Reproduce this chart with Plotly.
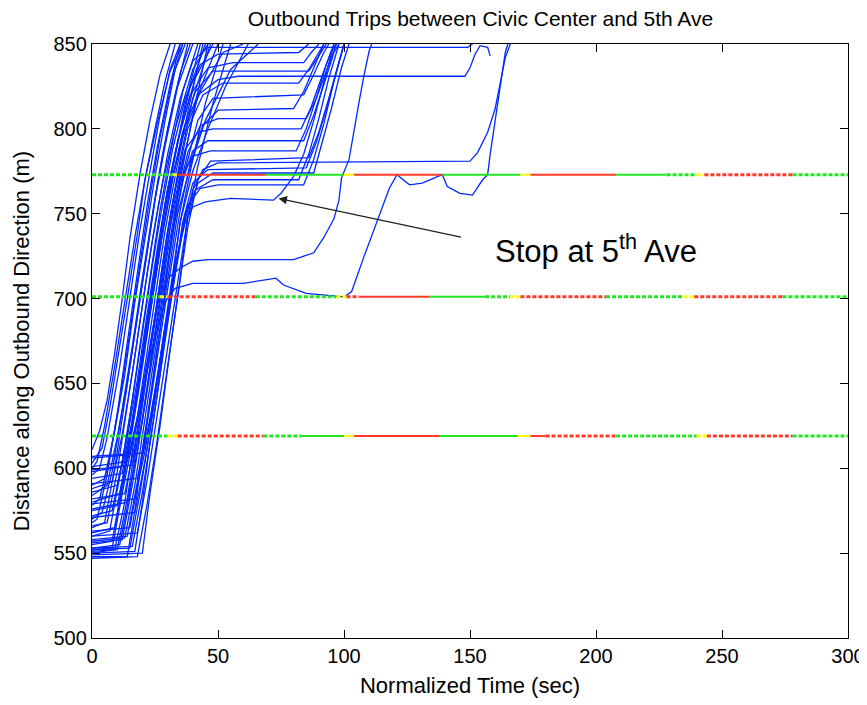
import plotly.graph_objects as go

# ---- signal heads along the outbound corridor (m) ----
signal_pos = [619, 701, 773]

# signal phases: (start s, end s, phase, observed)  observed=1 solid, 0 inferred
phases_619 = [
    (0, 30, 'G', 0), (30, 34, 'Y', 0), (34, 68, 'R', 0), (68, 83, 'G', 0),
    (83, 100, 'G', 1), (100, 104, 'Y', 1), (104, 138, 'R', 1), (138, 169, 'G', 1),
    (169, 174, 'Y', 1), (174, 180, 'R', 1), (180, 208, 'R', 0), (208, 240, 'G', 0),
    (240, 244, 'Y', 0), (244, 278, 'R', 0), (278, 300, 'G', 0),
]
phases_701 = [
    (0, 27, 'G', 0), (27, 30, 'Y', 0), (30, 65, 'R', 0), (65, 97, 'G', 0),
    (97, 101, 'Y', 0), (101, 106, 'R', 0), (106, 134, 'R', 1), (134, 156, 'G', 1),
    (156, 166, 'G', 0), (166, 170, 'Y', 0), (170, 204, 'R', 0), (204, 235, 'G', 0),
    (235, 239, 'Y', 0), (239, 274, 'R', 0), (274, 300, 'G', 0),
]
phases_773 = [
    (0, 32, 'G', 0), (32, 34, 'Y', 0), (34, 69, 'R', 1), (69, 100, 'G', 1),
    (100, 104, 'Y', 1), (104, 139, 'R', 1), (139, 170, 'G', 1), (170, 174, 'Y', 1),
    (174, 208, 'R', 1), (208, 228, 'G', 1), (228, 240, 'G', 0), (240, 243, 'Y', 0),
    (243, 278, 'R', 0), (278, 300, 'G', 0),
]

# ---- bus trips (normalized time s, distance m) ----
# trips that run straight through
fast_trips = [
    [(0, 611), (3, 622), (6, 640), (9, 668), (12, 700), (15, 735), (19, 773), (23, 805), (27, 832), (31, 850)],
    [(0, 603), (4, 612), (7, 635), (10, 662), (14, 700), (18, 738), (21, 770), (25, 800), (29, 828), (33, 850)],
    [(0, 596), (3, 600), (6, 618), (11, 660), (15, 700), (19, 740), (23, 775), (27, 808), (31, 835), (35, 850)],
    [(0, 590), (5, 594), (9, 622), (13, 655), (17, 698), (21, 735), (25, 772), (29, 805), (33, 835), (37, 850)],
    [(0, 584), (6, 590), (10, 618), (14, 650), (18, 690), (22, 728), (26, 768), (30, 800), (35, 833), (39, 850)],
    [(0, 565), (5, 568), (9, 600), (13, 640), (17, 680), (21, 718), (25, 758), (29, 790), (34, 825), (40, 850)],
    [(0, 560), (7, 563), (11, 595), (15, 630), (19, 672), (23, 712), (27, 752), (31, 785), (36, 822), (42, 850)],
    [(0, 555), (8, 557), (12, 590), (16, 628), (20, 668), (24, 706), (28, 745), (32, 776), (37, 815), (43, 850)],
    [(0, 550), (9, 552), (13, 580), (17, 620), (21, 662), (25, 700), (29, 740), (33, 772), (38, 810), (44, 850)],
    [(0, 548), (14, 548), (17, 575), (20, 610), (24, 650), (28, 692), (31, 730), (35, 770), (40, 808), (46, 850)],
    [(0, 553), (11, 555), (15, 585), (19, 625), (23, 668), (27, 708), (31, 748), (35, 782), (40, 818), (47, 850)],
    [(0, 570), (4, 574), (8, 598), (12, 634), (16, 672), (20, 712), (24, 750), (28, 785), (33, 820), (38, 850)],
    [(0, 578), (3, 582), (7, 606), (11, 640), (15, 680), (19, 720), (23, 760), (27, 795), (32, 830), (36, 850)],
    [(0, 600), (2, 604), (5, 625), (9, 660), (13, 698), (17, 736), (21, 770), (26, 804), (31, 834), (36, 850)],
    [(0, 550), (17, 551), (20, 580), (23, 615), (27, 655), (31, 700), (35, 745), (39, 775), (45, 815), (52, 850)],
    [(0, 549), (20, 550), (23, 585), (27, 625), (31, 670), (35, 712), (38, 748), (42, 778), (48, 815), (55, 850)],
    [(0, 556), (12, 558), (16, 590), (20, 628), (24, 670), (28, 712), (32, 752), (36, 780), (42, 820), (50, 850)],
    [(0, 562), (9, 565), (13, 596), (17, 634), (21, 676), (25, 716), (29, 756), (33, 786), (39, 825), (45, 850)],
    [(0, 575), (10, 578), (14, 608), (18, 645), (22, 688), (26, 728), (30, 765), (35, 798), (41, 830), (48, 850)],
    [(0, 588), (8, 592), (12, 620), (16, 656), (20, 696), (24, 735), (28, 768), (33, 800), (40, 835), (46, 850)],
    [(0, 568), (2, 570), (6, 596), (10, 632), (14, 674), (18, 716), (22, 756), (26, 790), (31, 826), (35, 850)],
    [(0, 552), (15, 553), (19, 585), (23, 622), (27, 664), (31, 706), (35, 745), (40, 775), (46, 800), (53, 825), (62, 850)],
    [(0, 558), (14, 560), (18, 592), (22, 630), (26, 672), (30, 712), (34, 750), (39, 778), (45, 805), (55, 835), (66, 850)],
    [(0, 580), (11, 585), (15, 614), (19, 650), (23, 690), (27, 730), (31, 766), (36, 795), (43, 822), (52, 845), (60, 850)],
]

# trips that stop at the 5th Ave stop before moving on
stopped_trips = [
    [(0, 566), (6, 568), (10, 598), (14, 636), (18, 676), (22, 716), (26, 752), (30, 785), (35, 818), (40, 840), (46, 848), (149, 848), (151, 850)],
    [(0, 572), (8, 575), (12, 604), (16, 640), (20, 680), (24, 720), (28, 756), (32, 788), (37, 818), (43, 838), (50, 844), (82, 845), (86, 850)],
    [(0, 586), (10, 590), (14, 618), (18, 652), (22, 692), (26, 730), (30, 764), (34, 793), (39, 820), (46, 836), (56, 839), (84, 839), (87, 845), (90, 850)],
    [(0, 594), (12, 597), (16, 626), (20, 662), (24, 700), (28, 738), (32, 770), (36, 798), (41, 822), (48, 834), (86, 834), (90, 843), (93, 850)],
    [(0, 551), (10, 552), (14, 582), (18, 620), (22, 660), (26, 700), (30, 740), (34, 772), (38, 800), (44, 820), (52, 827), (82, 827), (86, 835), (90, 845), (92, 850)],
    [(0, 557), (13, 559), (17, 590), (21, 628), (25, 668), (29, 708), (33, 746), (37, 776), (42, 805), (48, 818), (84, 820), (88, 832), (92, 845), (94, 850)],
    [(0, 563), (15, 565), (19, 598), (23, 636), (27, 676), (31, 715), (35, 752), (39, 780), (44, 802), (50, 811), (80, 812), (84, 822), (88, 836), (92, 850)],
    [(0, 576), (14, 580), (18, 610), (22, 648), (26, 688), (30, 727), (34, 760), (38, 786), (43, 802), (50, 806), (85, 806), (89, 818), (93, 834), (97, 850)],
    [(0, 582), (13, 585), (17, 614), (21, 650), (25, 690), (29, 730), (33, 764), (37, 788), (42, 798), (48, 800), (83, 800), (87, 813), (91, 830), (95, 846), (97, 850)],
    [(0, 599), (16, 602), (20, 628), (24, 664), (28, 702), (32, 740), (36, 770), (40, 787), (46, 793), (84, 793), (88, 808), (92, 826), (96, 845), (98, 850)],
    [(0, 606), (15, 608), (19, 634), (23, 668), (27, 705), (31, 742), (35, 770), (40, 784), (47, 787), (81, 787), (85, 800), (89, 818), (93, 838), (96, 850)],
    [(0, 547), (18, 548), (22, 580), (26, 618), (30, 660), (34, 702), (38, 742), (42, 770), (47, 781), (86, 783), (90, 798), (94, 818), (98, 840), (100, 850)],
    [(0, 553), (16, 554), (20, 586), (24, 624), (28, 665), (32, 705), (36, 745), (40, 768), (46, 776), (85, 777), (89, 792), (93, 812), (97, 834), (100, 850)],
    [(0, 560), (18, 562), (22, 594), (26, 632), (30, 672), (34, 710), (38, 748), (42, 768), (48, 774), (88, 774), (91, 790), (95, 812), (99, 836), (102, 850)],
    [(0, 571), (17, 574), (21, 604), (25, 640), (29, 678), (33, 716), (37, 750), (41, 764), (48, 770), (82, 770), (86, 785), (90, 806), (94, 830), (98, 850)],
    [(0, 591), (18, 594), (22, 620), (26, 654), (30, 690), (34, 726), (38, 755), (43, 765), (50, 767), (84, 767), (88, 782), (92, 803), (96, 828), (100, 850)],
    [(0, 579), (17, 582), (21, 610), (25, 645), (29, 684), (33, 720), (37, 745), (40, 754), (45, 757), (55, 759), (72, 758), (75, 762), (80, 772), (84, 785), (88, 805), (92, 828), (96, 850)],
]

# slow / long-dwell trips
late_trips = [
    [(0, 598), (12, 601), (16, 628), (20, 664), (24, 702), (28, 740), (32, 772), (36, 798), (42, 820), (50, 829), (58, 831), (148, 831), (150, 836), (152, 844), (154, 849), (157, 848), (158, 843)],
    [(0, 607), (20, 609), (24, 635), (28, 670), (32, 706), (36, 740), (40, 764), (44, 776), (50, 780), (150, 781), (153, 786), (157, 798), (160, 812), (162, 828), (164, 842), (166, 850)],
    [(0, 552), (8, 553), (12, 585), (18, 630), (24, 672), (29, 698), (33, 706), (40, 709), (60, 709), (70, 711), (73, 712), (76, 708), (85, 703), (100, 701), (103, 704), (108, 725), (113, 745), (118, 765), (121, 773), (126, 767), (131, 768), (136, 771), (139, 773), (141, 766), (146, 762), (151, 761), (155, 770), (157, 773), (158, 785), (160, 805), (162, 825), (164, 845), (165, 850)],
    [(0, 601), (14, 604), (18, 630), (22, 664), (26, 698), (30, 712), (35, 718), (40, 722), (46, 723), (80, 723), (84, 725), (88, 727), (92, 736), (96, 747), (98, 758), (99, 771), (102, 782), (104, 800), (106, 816), (108, 832), (110, 846), (111, 850)],
]

FONT = 'Liberation Sans, Arial, sans-serif'
BLUE = 'rgb(0,40,255)'
PHASE_COLOR = {'G': '#22E622', 'Y': '#FFFF00', 'R': '#FF3B2A'}

fig = go.Figure()

# all trips in one trace, separated by gaps
xs, ys = [], []
for trip in fast_trips + stopped_trips + late_trips:
    xs += [p[0] for p in trip] + [None]
    ys += [p[1] for p in trip] + [None]
fig.add_trace(go.Scatter(x=xs, y=ys, mode='lines', line=dict(color=BLUE, width=1.3),
                         hoverinfo='skip', showlegend=False))

# signal phase bars, grouped by colour and observed/inferred
groups = {}
for pos, phases in zip(signal_pos, [phases_619, phases_701, phases_773]):
    for t0, t1, ph, obs in phases:
        gx, gy = groups.setdefault((ph, obs), ([], []))
        gx += [t0, t1, None]
        gy += [pos, pos, None]

for (ph, obs), (gx, gy) in groups.items():
    line = dict(color=PHASE_COLOR[ph], width=2.0) if obs else \
        dict(color=PHASE_COLOR[ph], width=3.0, dash='4px,2px')
    fig.add_trace(go.Scatter(x=gx, y=gy, mode='lines', line=line,
                             hoverinfo='skip', showlegend=False))

# arrow + label
fig.add_annotation(x=74, y=759, ax=147, ay=736, xref='x', yref='y', axref='x', ayref='y',
                   text='', showarrow=True, arrowhead=2, arrowsize=1.3, arrowwidth=1.3,
                   arrowcolor='#222222')
fig.add_annotation(x=200, y=729, xref='x', yref='y', showarrow=False,
                   text='Stop at 5<sup>th</sup> Ave',
                   font=dict(family=FONT, size=31, color='black'))

axis = dict(showgrid=False, zeroline=False, showline=True, linecolor='black', linewidth=1.3,
            mirror='ticks', ticks='inside', ticklen=8, tickwidth=1.3, tickcolor='black',
            automargin=False, tickfont=dict(family=FONT, size=20, color='black'))

# page body adds an 8px offset, so the figure is sized 8px smaller
fig.update_layout(
    width=859, height=697,
    margin=dict(l=84, r=19, t=36, b=67),
    paper_bgcolor='white', plot_bgcolor='white',
    title=dict(text='Outbound Trips between Civic Center and 5th Ave',
               x=0.55, xanchor='center', y=1 - 11 / 697, yanchor='middle',
               font=dict(family=FONT, size=21, color='black')),
    xaxis=dict(axis, range=[0, 300], tickvals=[0, 50, 100, 150, 200, 250, 300],
               title=dict(text='Normalized Time (sec)', standoff=11,
                          font=dict(family=FONT, size=22, color='black'))),
    yaxis=dict(axis, range=[500, 850], tickvals=[500, 550, 600, 650, 700, 750, 800, 850],
               title=dict(text='Distance along Outbound Direction (m)', standoff=17,
                          font=dict(family=FONT, size=22, color='black'))),
)

fig.write_html("out.html")
